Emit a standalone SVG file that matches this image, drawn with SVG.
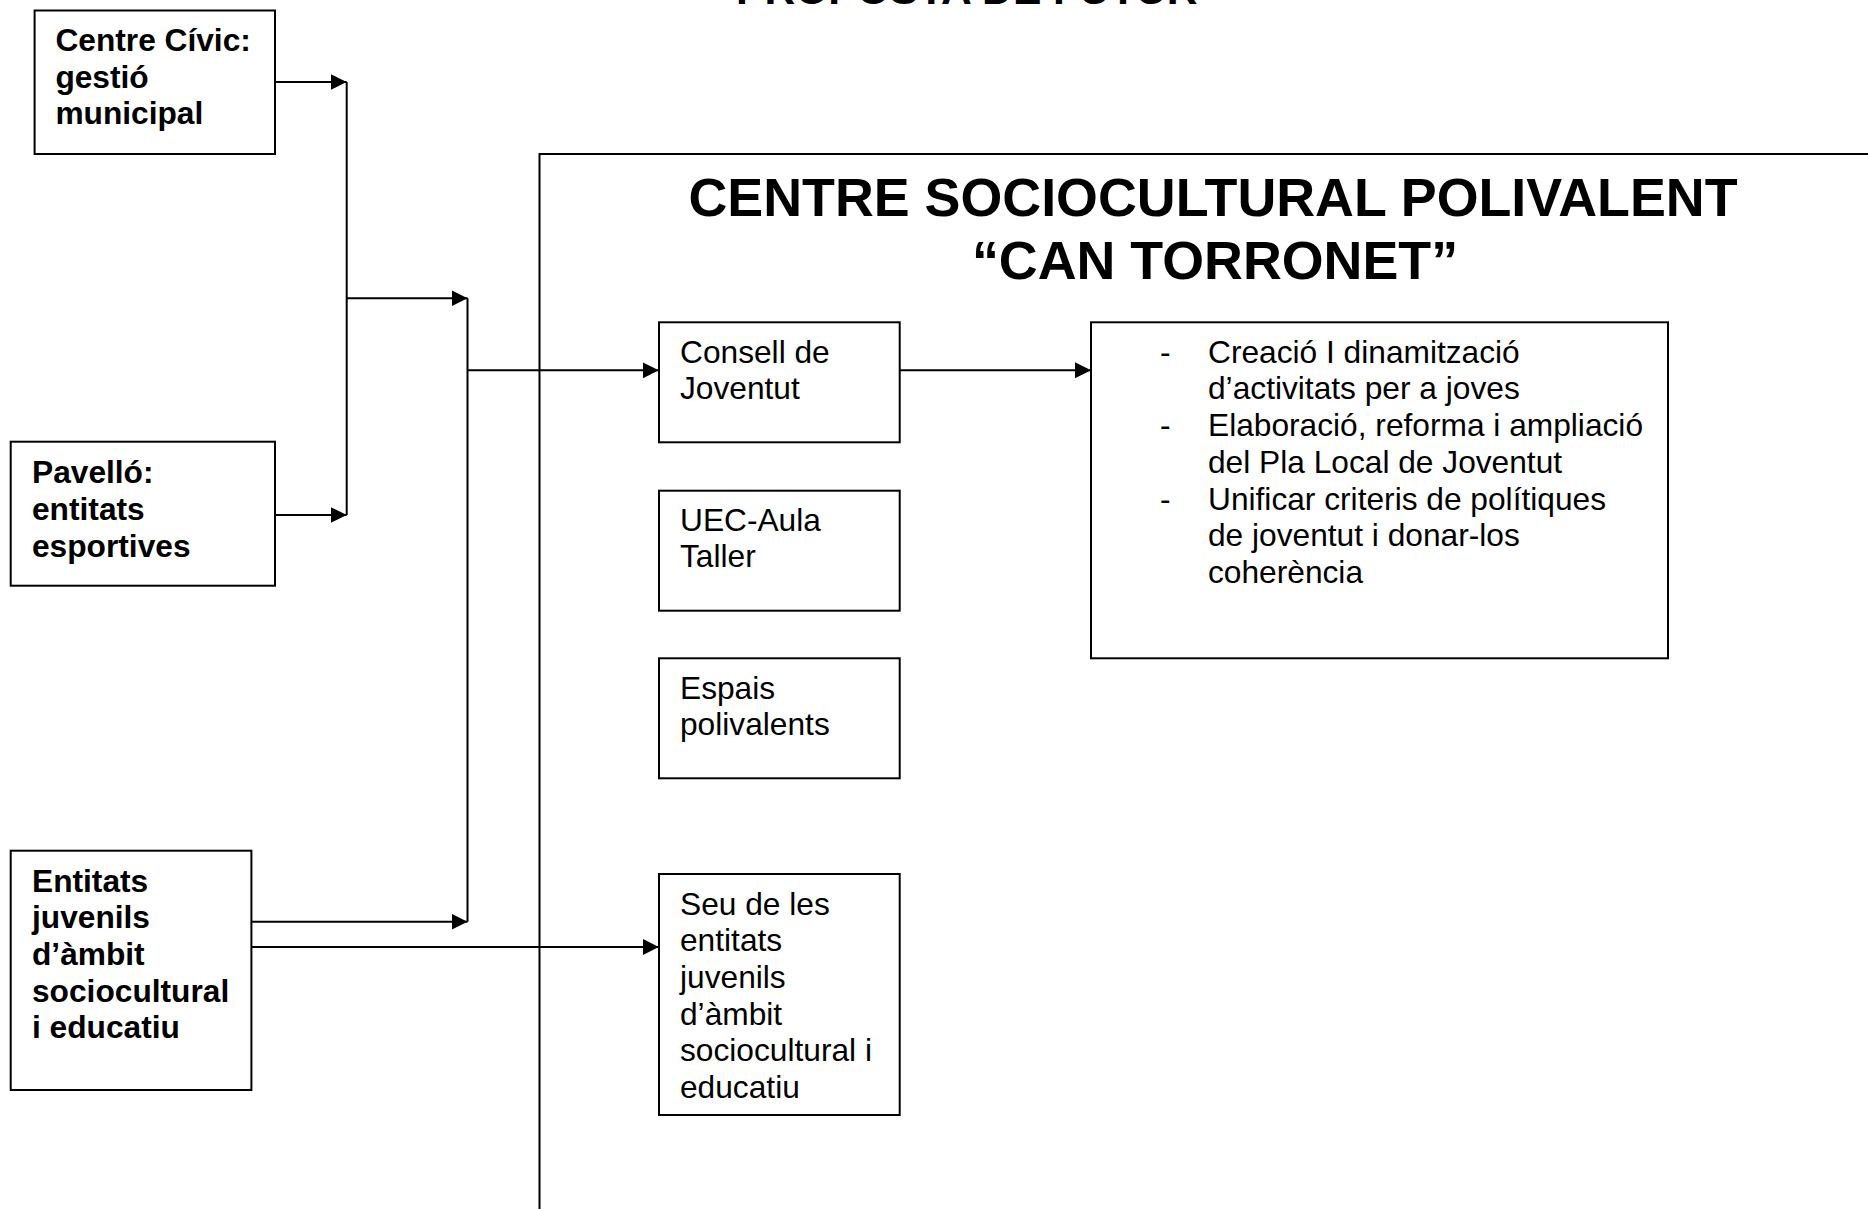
<svg xmlns="http://www.w3.org/2000/svg" width="1868" height="1209" viewBox="0 0 1868 1209">
<style>
.box{fill:#fff;stroke:#000;stroke-width:2}
.ln{fill:none;stroke:#000;stroke-width:2}
.t{font-family:"Liberation Sans",Arial,sans-serif;font-size:31.7px;fill:#000}
.b{font-weight:bold}
.title{font-family:"Liberation Sans",Arial,sans-serif;font-weight:bold;font-size:53.8px;text-anchor:middle;fill:#000}
</style>
<defs>
<marker id="ah" markerUnits="userSpaceOnUse" markerWidth="18" markerHeight="18" refX="16" refY="8" orient="auto"><path d="M0,0 L16,8 L0,16 z" fill="#000"/></marker>
</defs>
<rect x="0" y="0" width="1868" height="1209" fill="#fff"/>
<text class="t b" x="736" y="4" style="font-size:42.6px">PROPOSTA DE FUTUR</text>

<g id="container">
<path class="ln" d="M539.5,1209 V154 H1868"/>
<text class="title" x="1213" y="216">CENTRE SOCIOCULTURAL POLIVALENT</text>
<text class="title" x="1215" y="279">“CAN TORRONET”</text>
</g>

<g id="connectors">
<path class="ln" d="M275,82 H346.7" marker-end="url(#ah)"/>
<path class="ln" d="M275,515 H346.7" marker-end="url(#ah)"/>
<path class="ln" d="M346.7,82 V515"/>
<path class="ln" d="M346.7,298.3 H467.5" marker-end="url(#ah)"/>
<path class="ln" d="M467.5,298.3 V921.7"/>
<path class="ln" d="M467.5,370.3 H658.8" marker-end="url(#ah)"/>
<path class="ln" d="M251.4,921.7 H467.5" marker-end="url(#ah)"/>
<path class="ln" d="M251.4,947 H658.8" marker-end="url(#ah)"/>
<path class="ln" d="M899.7,370.3 H1091" marker-end="url(#ah)"/>
</g>

<g id="centre-civic">
<rect class="box" x="34.6" y="10.5" width="240.4" height="143.5"/>
<text class="t b"><tspan x="55.4" y="51">Centre Cívic:</tspan><tspan x="55.4" y="87.5">gestió</tspan><tspan x="55.4" y="124">municipal</tspan></text>
</g>

<g id="pavello">
<rect class="box" x="10.7" y="441.7" width="264.3" height="144"/>
<text class="t b"><tspan x="32" y="483.3">Pavelló:</tspan><tspan x="32" y="520">entitats</tspan><tspan x="32" y="556.7">esportives</tspan></text>
</g>

<g id="entitats-juvenils">
<rect class="box" x="10.7" y="850.7" width="240.7" height="239.3"/>
<text class="t b"><tspan x="32" y="891.7">Entitats</tspan><tspan x="32" y="928.3">juvenils</tspan><tspan x="32" y="964.9">d’àmbit</tspan><tspan x="32" y="1001.5">sociocultural</tspan><tspan x="32" y="1038.1">i educatiu</tspan></text>
</g>

<g id="consell">
<rect class="box" x="659" y="322.3" width="240.7" height="120"/>
<text class="t"><tspan x="680" y="362.7">Consell de</tspan><tspan x="680" y="399">Joventut</tspan></text>
</g>

<g id="uec">
<rect class="box" x="659" y="490.7" width="240.7" height="120"/>
<text class="t"><tspan x="680" y="530.5">UEC-Aula</tspan><tspan x="680" y="566.8">Taller</tspan></text>
</g>

<g id="espais">
<rect class="box" x="659" y="658.3" width="240.7" height="120"/>
<text class="t"><tspan x="680" y="698.5">Espais</tspan><tspan x="680" y="734.8">polivalents</tspan></text>
</g>

<g id="seu">
<rect class="box" x="659" y="874" width="240.7" height="241"/>
<text class="t"><tspan x="680" y="914.5">Seu de les</tspan><tspan x="680" y="951.2">entitats</tspan><tspan x="680" y="987.9">juvenils</tspan><tspan x="680" y="1024.6">d’àmbit</tspan><tspan x="680" y="1061.3">sociocultural i</tspan><tspan x="680" y="1098">educatiu</tspan></text>
</g>

<g id="funcions">
<rect class="box" x="1091" y="322.3" width="577" height="336"/>
<text class="t"><tspan x="1160" y="362.7">-</tspan><tspan x="1208" y="362.7">Creació I dinamització</tspan><tspan x="1208" y="399.4">d’activitats per a joves</tspan><tspan x="1160" y="436.1">-</tspan><tspan x="1208" y="436.1">Elaboració, reforma i ampliació</tspan><tspan x="1208" y="472.8">del Pla Local de Joventut</tspan><tspan x="1160" y="509.5">-</tspan><tspan x="1208" y="509.5">Unificar criteris de polítiques</tspan><tspan x="1208" y="546.2">de joventut i donar-los</tspan><tspan x="1208" y="582.9">coherència</tspan></text>
</g>
</svg>
